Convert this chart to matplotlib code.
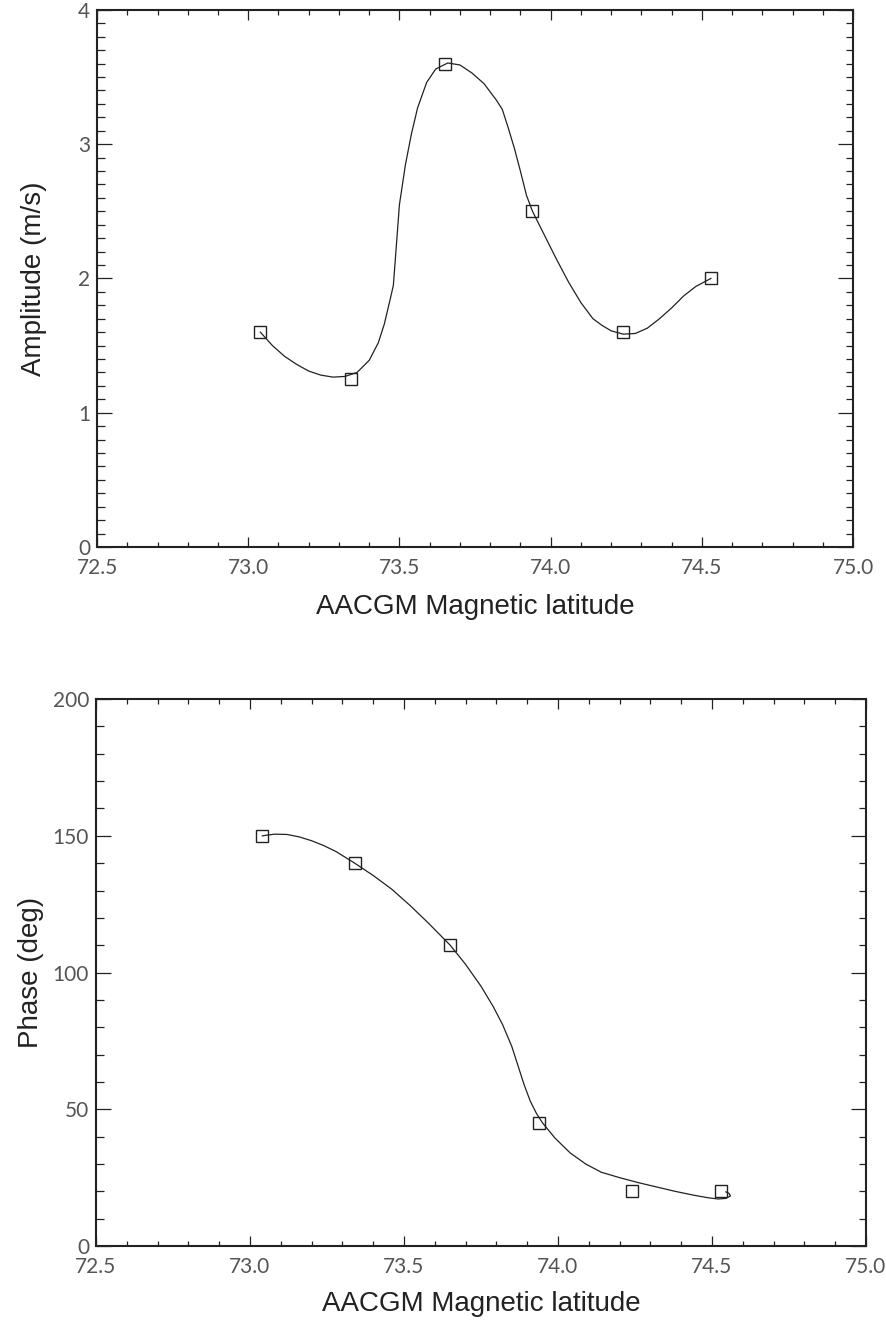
import matplotlib
matplotlib.use('Agg')
import matplotlib.pyplot as plt
from matplotlib.ticker import MultipleLocator, FormatStrFormatter

# measured points
lat = [73.04, 73.34, 73.65, 73.94, 74.24, 74.53]
amplitude = [1.6, 1.25, 3.6, 2.5, 1.6, 2.0]
phase = [150, 140, 110, 45, 20, 20]

# fitted curves
amp_curve_x = [73.04, 73.08, 73.12, 73.16, 73.20, 73.24, 73.28, 73.32, 73.36, 73.40,
               73.43, 73.45, 73.47, 73.48, 73.49, 73.50, 73.52, 73.54, 73.56, 73.59,
               73.62, 73.66, 73.70, 73.74, 73.78, 73.82, 73.84, 73.86, 73.88, 73.90,
               73.92, 73.94, 73.98, 74.02, 74.06, 74.10, 74.14, 74.17, 74.20, 74.24,
               74.28, 74.32, 74.36, 74.40, 74.44, 74.48, 74.53]
amp_curve_y = [1.60, 1.50, 1.42, 1.36, 1.31, 1.28, 1.265, 1.27, 1.30, 1.39,
               1.52, 1.66, 1.85, 1.95, 2.25, 2.55, 2.85, 3.08, 3.27, 3.46,
               3.56, 3.605, 3.59, 3.53, 3.45, 3.33, 3.26, 3.12, 2.97, 2.80,
               2.62, 2.50, 2.32, 2.14, 1.97, 1.82, 1.70, 1.65, 1.61, 1.585,
               1.59, 1.63, 1.70, 1.78, 1.87, 1.94, 2.00]
ph_curve_x = [73.04, 73.08, 73.12, 73.16, 73.20, 73.24, 73.28, 73.34, 73.40, 73.46,
              73.52, 73.58, 73.65, 73.70, 73.75, 73.79, 73.82, 73.85, 73.87, 73.89,
              73.91, 73.93, 73.95, 73.99, 74.04, 74.09, 74.14, 74.20, 74.26, 74.32,
              74.38, 74.44, 74.49, 74.52, 74.545, 74.56, 74.555, 74.545]
ph_curve_y = [150, 150.6, 150.5, 149.6, 148.2, 146.4, 144.2, 140, 135.5, 130.5,
              124.5, 118, 110, 103, 95, 87.5, 81, 73, 66, 59,
              53, 48.5, 45, 39.5, 34, 30, 27, 25, 23.2, 21.6,
              20.0, 18.6, 17.6, 17.2, 17.4, 18.3, 19.3, 19.8]

plt.rcParams['font.family'] = ['Liberation Sans', 'DejaVu Sans']

fig = plt.figure(figsize=(8.87, 13.24), dpi=100)
ax1 = fig.add_axes([0.1094, 0.5869, 0.8523, 0.4056])
ax2 = fig.add_axes([0.1082, 0.0589, 0.8681, 0.4131])


def style_axes(ax, ylim, ymajor, yminor, ylabel, ylab_x, xlab_y):
    ax.set_xlim(72.5, 75.0)
    ax.set_ylim(*ylim)
    ax.xaxis.set_major_locator(MultipleLocator(0.5))
    ax.xaxis.set_minor_locator(MultipleLocator(0.1))
    ax.yaxis.set_major_locator(MultipleLocator(ymajor))
    ax.yaxis.set_minor_locator(MultipleLocator(yminor))
    ax.xaxis.set_major_formatter(FormatStrFormatter('%.1f'))
    ax.yaxis.set_major_formatter(FormatStrFormatter('%d'))
    ax.tick_params(which='both', direction='in', top=True, right=True,
                   colors='#222222', width=0.9, labelsize=15, labelcolor='#555555')
    ax.tick_params(axis='x', which='major', length=7.2, pad=8)
    ax.tick_params(axis='x', which='minor', length=3.6)
    ax.tick_params(axis='y', which='major', length=10.8, pad=5)
    ax.tick_params(axis='y', which='minor', length=5.4)
    for lbl in ax.get_xticklabels() + ax.get_yticklabels():
        lbl.set_family(['Lato', 'DejaVu Sans'])
    for spine in ax.spines.values():
        spine.set_linewidth(1.5)
        spine.set_color('#222222')
    ax.set_xlabel('AACGM Magnetic latitude', fontsize=20, color='#222222')
    ax.xaxis.set_label_coords(0.5, xlab_y)
    ax.set_ylabel(ylabel, fontsize=20, color='#222222')
    ax.yaxis.set_label_coords(ylab_x, 0.5)


ax1.plot(amp_curve_x, amp_curve_y, color='#222222', linewidth=0.9)
ax1.plot(lat, amplitude, linestyle='none', marker='s', markersize=8.5,
         markerfacecolor='none', markeredgecolor='#222222', markeredgewidth=1.0)
style_axes(ax1, (0, 4), 1, 0.1, 'Amplitude (m/s)', -0.066, -0.0875)

ax2.plot(ph_curve_x, ph_curve_y, color='#222222', linewidth=0.9)
ax2.plot(lat, phase, linestyle='none', marker='s', markersize=8.5,
         markerfacecolor='none', markeredgecolor='#222222', markeredgewidth=1.0)
style_axes(ax2, (0, 200), 50, 10, 'Phase (deg)', -0.068, -0.082)

fig.savefig('out.png', dpi=100, facecolor='white')
